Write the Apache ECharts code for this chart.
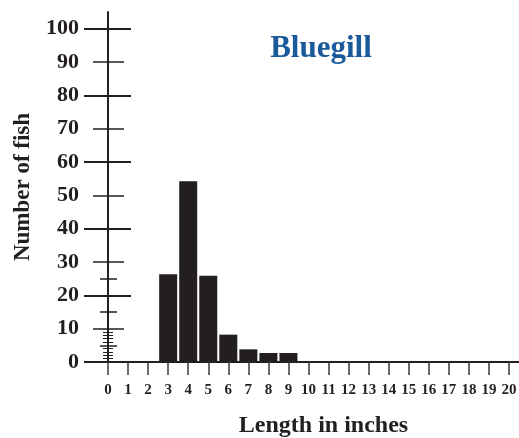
<!DOCTYPE html>
<html>
<head>
<meta charset="utf-8">
<script src="https://cdn.jsdelivr.net/npm/echarts@6/dist/echarts.min.js"></script>
<style>
  html, body { margin: 0; padding: 0; background: #fff; }
  #chart { width: 519px; height: 438px; }
</style>
</head>
<body>
<div id="chart"></div>
<script>
  // length in inches (x categories) and number of fish
  const lengths = ['0', '1', '2', '3', '4', '5', '6', '7', '8', '9', '10',
    '11', '12', '13', '14', '15', '16', '17', '18', '19', '20']
  const fishCount = [0, 0, 0, 26.3, 54.2, 25.9, 8.2, 3.8, 2.7, 2.7, 0,
    0, 0, 0, 0, 0, 0, 0, 0, 0, 0]
  const yMax = 105
  const yTickValues = []
  for (let i = 0; i <= yMax; i++) yTickValues.push(String(i))

  const serif = 'Liberation Serif'
  const ink = '#231f20'

  // tick groups on the y axis: which values, how far left / right, line width
  const tickGroups = [
    { test: v => v % 20 === 0 && v <= 100, left: 24, right: 23, width: 2 },
    { test: v => v % 20 === 10 && v <= 100, left: 15, right: 16, width: 1.5 },
    { test: v => v === 5 || v === 15 || v === 25, left: 8, right: 9, width: 1.5 },
    { test: v => v > 0 && v < 10 && v !== 5, left: 5, right: 5, width: 1 }
  ]

  function tickAxis(group, inside) {
    return {
      type: 'category',
      position: 'left',
      offset: -10,
      data: yTickValues,
      boundaryGap: false,
      axisLine: { show: false },
      axisLabel: { show: false },
      splitLine: { show: false },
      axisTick: {
        show: true,
        inside: inside,
        length: inside ? group.right : group.left,
        interval: (index) => group.test(index),
        lineStyle: { color: ink, width: group.width }
      }
    }
  }

  const yAxes = [{
    type: 'value',
    position: 'left',
    offset: -10,
    min: 0,
    max: yMax,
    interval: 10,
    name: 'Number of fish',
    nameLocation: 'middle',
    nameRotate: 90,
    nameGap: 73,
    nameTextStyle: { fontFamily: serif, fontWeight: 'bold', fontSize: 23, color: ink },
    axisLine: { show: true, lineStyle: { color: ink, width: 2 } },
    axisTick: { show: false },
    splitLine: { show: false },
    axisLabel: {
      margin: 29,
      showMaxLabel: false,
      fontFamily: serif,
      fontWeight: 'bold',
      fontSize: 22,
      color: ink
    }
  }]
  tickGroups.forEach(g => {
    yAxes.push(tickAxis(g, false))
    yAxes.push(tickAxis(g, true))
  })

  const chart = echarts.init(document.getElementById('chart'))
  chart.setOption({
    animation: false,
    title: {
      text: 'Bluegill',
      left: 316,
      top: 28,
      textAlign: 'center',
      textStyle: { fontFamily: serif, fontWeight: 'bold', fontSize: 31, color: '#1a5a9a' }
    },
    grid: { left: 98, right: 0, top: 12, bottom: 76, outerBoundsMode: 'none', containLabel: false },
    xAxis: {
      type: 'category',
      data: lengths,
      name: 'Length in inches',
      nameLocation: 'middle',
      nameGap: 52,
      nameTextStyle: {
        fontFamily: serif, fontWeight: 'bold', fontSize: 24, color: ink,
        padding: [0, 0, 0, 30]
      },
      axisLine: { lineStyle: { color: ink, width: 2 } },
      axisTick: {
        show: true,
        alignWithLabel: true,
        length: 13,
        lineStyle: { color: '#3a3a3a', width: 1.5 }
      },
      axisLabel: {
        interval: 0,
        margin: 21,
        fontFamily: serif,
        fontWeight: 'bold',
        fontSize: 15,
        color: ink
      }
    },
    yAxis: yAxes,
    series: [{
      type: 'bar',
      data: fishCount,
      barWidth: 18,
      itemStyle: { color: ink },
      yAxisIndex: 0
    }]
  })
</script>
</body>
</html>
